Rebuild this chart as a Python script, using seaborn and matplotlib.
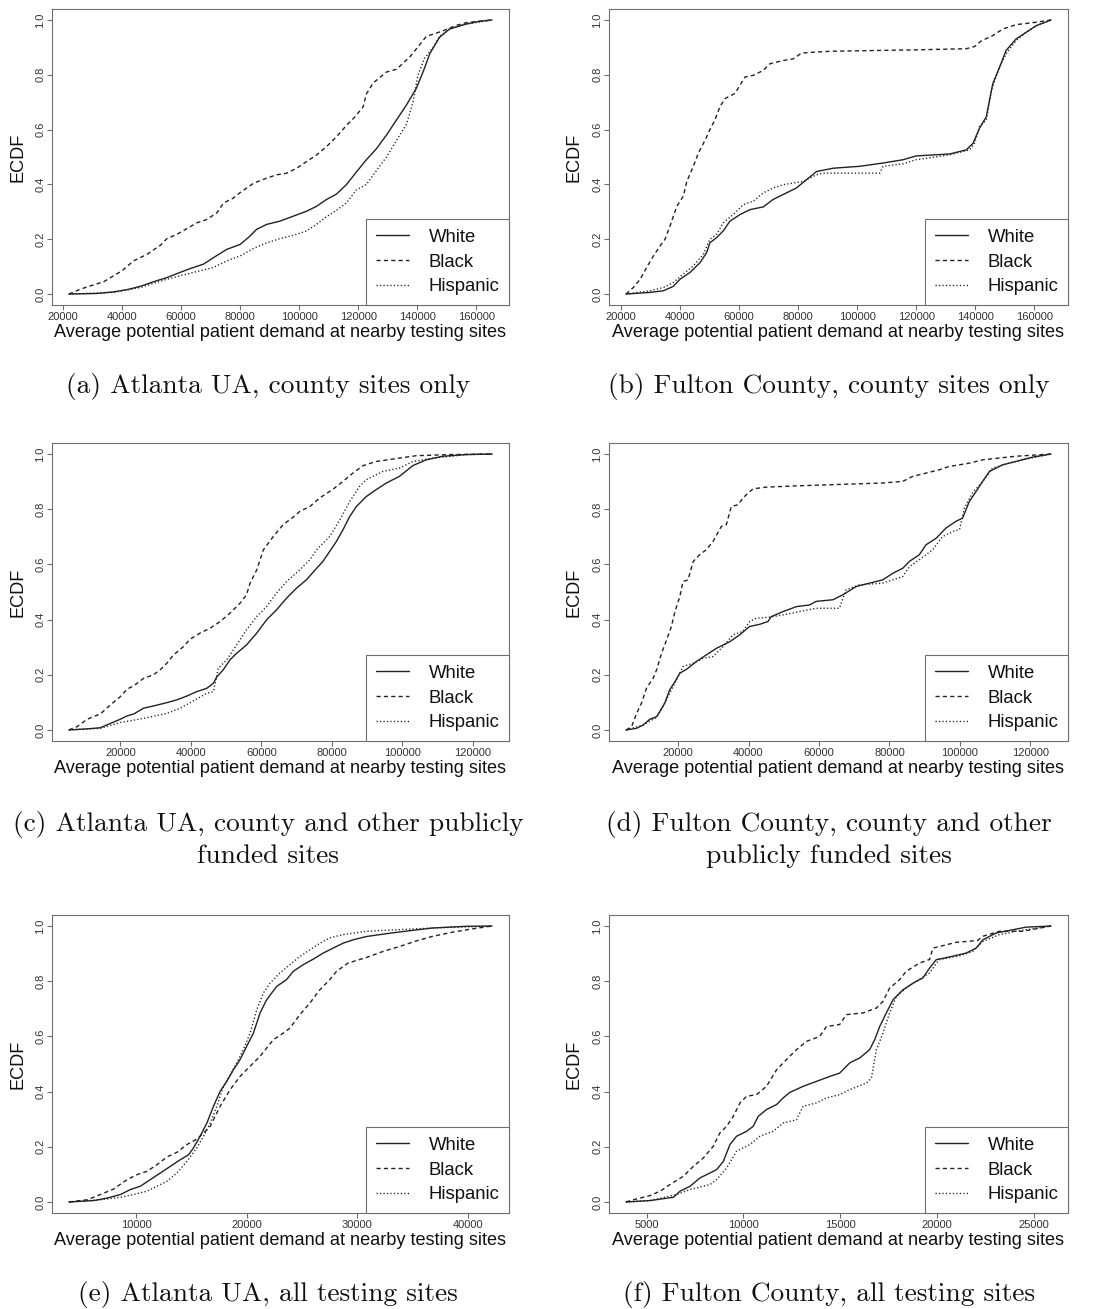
import matplotlib
matplotlib.use("Agg")
import matplotlib.pyplot as plt
import pandas as pd
import seaborn as sns

GROUPS = ["White", "Black", "Hispanic"]
Y_TICKS = [0.0, 0.2, 0.4, 0.6, 0.8, 1.0]
Y_TICK_LABELS = ["0.0", "0.2", "0.4", "0.6", "0.8", "1.0"]
X_LABEL = "Average potential patient demand at nearby testing sites"
Y_LABEL = "ECDF"

# ---- (a) Atlanta UA, county sites only ----
a_white_x = [22000, 31500, 37200, 41700, 46200, 50700, 55200, 59700, 63100, 67600, 71000, 75500,
             80000, 82800, 85600, 89000, 93500, 98000, 102500, 105900, 109300, 112700, 116100,
             119400, 122800, 126200, 129600, 133000, 136400, 139700, 142000, 144300, 147600,
             151000, 156600, 161100, 165400]
a_white_y = [0, 0.002, 0.008, 0.016, 0.028, 0.045, 0.06, 0.079, 0.093, 0.109, 0.133, 0.163,
             0.181, 0.206, 0.236, 0.254, 0.266, 0.284, 0.302, 0.32, 0.345, 0.365, 0.40,
             0.445, 0.49, 0.53, 0.58, 0.635, 0.69, 0.75, 0.81, 0.877, 0.937,
             0.967, 0.985, 0.995, 1.0]
a_black_x = [22000, 25900, 33800, 37200, 40000, 43900, 48500, 53000, 55200, 58600, 62500, 65400,
             68700, 72100, 74400, 77700, 80000, 84500, 89000, 92400, 95800, 99200, 102500, 105900,
             109300, 112700, 116100, 118900, 121700, 122800, 125100, 129600, 133000, 137500,
             140900, 143100, 148700, 153200, 156600, 165400]
a_black_y = [0, 0.018, 0.045, 0.067, 0.085, 0.121, 0.145, 0.178, 0.202, 0.218, 0.242, 0.26,
             0.272, 0.296, 0.332, 0.35, 0.37, 0.404, 0.423, 0.435, 0.441, 0.459, 0.483, 0.507,
             0.538, 0.574, 0.616, 0.646, 0.683, 0.73, 0.77, 0.81, 0.82, 0.865,
             0.91, 0.94, 0.96, 0.98, 0.99, 1.0]
a_hisp_x = [22000, 37200, 46200, 55200, 62000, 71000, 75500, 80000, 84500, 89000, 93500, 98000,
            102500, 105900, 109300, 112700, 116100, 119400, 122800, 126200, 129600, 133000,
            136400, 138600, 140300, 142500, 145400, 147600, 151000, 156600, 165400]
a_hisp_y = [0, 0.006, 0.024, 0.054, 0.073, 0.097, 0.121, 0.139, 0.166, 0.187, 0.202, 0.214,
            0.23, 0.254, 0.282, 0.306, 0.333, 0.38, 0.40, 0.45, 0.50, 0.56,
            0.62, 0.70, 0.80, 0.86, 0.90, 0.94, 0.967, 0.985, 1.0]
a_xticks = [20000, 40000, 60000, 80000, 100000, 120000, 140000, 160000]

# ---- (b) Fulton County, county sites only ----
b_white_x = [21700, 29900, 34400, 37700, 40000, 43400, 46800, 49000, 50100, 52400, 54600, 56900,
             60300, 63700, 68200, 71500, 74900, 79400, 82800, 86200, 91800, 100800, 108700,
             115500, 120000, 131300, 136900, 139200, 141400, 143700, 145900, 148200, 150400,
             153800, 157200, 160600, 165600]
b_white_y = [0, 0.006, 0.012, 0.028, 0.054, 0.079, 0.115, 0.151, 0.187, 0.206, 0.23, 0.266,
             0.29, 0.308, 0.318, 0.345, 0.363, 0.387, 0.417, 0.447, 0.459, 0.466, 0.478,
             0.49, 0.504, 0.511, 0.526, 0.55, 0.605, 0.647, 0.768, 0.828, 0.889,
             0.931, 0.955, 0.979, 1.0]
b_black_x = [21700, 24200, 26500, 28700, 31000, 33200, 34900, 36600, 38900, 41100, 42300, 44500,
             46200, 48500, 50100, 51800, 53500, 55200, 58600, 60300, 62000, 64800, 68200, 70400,
             74900, 78300, 81100, 86200, 91800, 108700, 120000, 136900, 139700, 141900, 145900,
             149300, 153800, 159400, 165600]
b_black_y = [0, 0.024, 0.054, 0.097, 0.139, 0.175, 0.2, 0.248, 0.32, 0.357, 0.411, 0.466,
             0.514, 0.562, 0.6, 0.635, 0.683, 0.713, 0.732, 0.762, 0.792, 0.798, 0.816, 0.84,
             0.852, 0.858, 0.879, 0.883, 0.886, 0.889, 0.891, 0.895, 0.903, 0.923, 0.943,
             0.967, 0.983, 0.99, 1.0]
b_hisp_x = [21700, 29900, 34400, 37700, 41100, 44500, 47900, 50100, 52400, 54600, 58000, 61400,
            64800, 68200, 71500, 74900, 81700, 86200, 88500, 107600, 108700, 115500, 120000,
            131300, 138000, 139700, 141400, 143700, 145400, 148200, 150400, 153800, 157200,
            160600, 165600]
b_hisp_y = [0, 0.012, 0.024, 0.042, 0.073, 0.103, 0.145, 0.2, 0.218, 0.26, 0.29, 0.326,
            0.339, 0.369, 0.387, 0.399, 0.411, 0.435, 0.441, 0.441, 0.466, 0.475, 0.49,
            0.508, 0.526, 0.55, 0.611, 0.635, 0.744, 0.828, 0.877, 0.925, 0.955,
            0.979, 1.0]
b_xticks = [20000, 40000, 60000, 80000, 100000, 120000, 140000, 160000]

# ---- (c) Atlanta UA, county and other publicly funded sites ----
c_white_x = [5400, 10600, 14300, 17200, 20000, 21900, 23800, 26600, 29400, 33200, 36000, 38900,
             41700, 44500, 46400, 47400, 49200, 51100, 53000, 55800, 58700, 61500, 64300, 67200,
             70000, 72800, 75700, 77500, 79400, 81300, 83200, 85100, 87000, 89800, 92600, 95500,
             99200, 103000, 106800, 111500, 118100, 125500]
c_white_y = [0, 0.004, 0.008, 0.024, 0.039, 0.051, 0.058, 0.079, 0.087, 0.099, 0.109, 0.123,
             0.139, 0.151, 0.169, 0.193, 0.218, 0.254, 0.278, 0.308, 0.351, 0.399, 0.435, 0.478,
             0.514, 0.544, 0.586, 0.611, 0.647, 0.683, 0.726, 0.774, 0.81, 0.846, 0.871, 0.895,
             0.919, 0.958, 0.979, 0.992, 0.998, 1.0]
c_black_x = [5400, 7700, 10600, 14300, 17200, 20000, 21900, 23800, 26600, 29400, 31300, 33200,
             35100, 37900, 39800, 42600, 45500, 48300, 51100, 54000, 55800, 56800, 58700, 60600,
             63400, 66200, 69100, 70900, 73800, 76600, 80400, 83200, 86000, 88900, 92600, 97400,
             104000, 113400, 125500]
c_black_y = [0, 0.012, 0.039, 0.058, 0.091, 0.121, 0.148, 0.16, 0.187, 0.2, 0.218, 0.242,
             0.272, 0.302, 0.329, 0.351, 0.369, 0.393, 0.423, 0.46, 0.49, 0.532, 0.58, 0.653,
             0.701, 0.744, 0.772, 0.792, 0.81, 0.841, 0.873, 0.901, 0.931, 0.958, 0.973, 0.982,
             0.994, 0.998, 1.0]
c_hisp_x = [5400, 14300, 20000, 26600, 33200, 37000, 40800, 44500, 46400, 47800, 50200, 53000,
            55800, 58700, 61500, 64300, 67200, 70900, 73800, 75700, 79400, 82300, 85100, 87900,
            89800, 94500, 99200, 103000, 108700, 118100, 125500]
c_hisp_y = [0, 0.006, 0.027, 0.042, 0.06, 0.079, 0.106, 0.133, 0.139, 0.224, 0.254, 0.308,
            0.363, 0.411, 0.447, 0.496, 0.538, 0.58, 0.617, 0.653, 0.701, 0.762, 0.828, 0.883,
            0.907, 0.937, 0.949, 0.973, 0.985, 0.998, 1.0]
c_xticks = [20000, 40000, 60000, 80000, 100000, 120000]

# ---- (d) Fulton County, county and other publicly funded sites ----
d_white_x = [5200, 8200, 10100, 12000, 13900, 14800, 16200, 17600, 19100, 20500, 22400, 25200,
             28000, 30900, 34700, 37500, 40300, 43200, 45500, 46500, 49800, 53600, 57300, 59200,
             64000, 66800, 70600, 74300, 78100, 81000, 83800, 85700, 88500, 90400, 93300, 96100,
             98900, 100800, 102700, 104600, 106500, 108400, 112200, 115900, 120700, 125900]
d_white_y = [0, 0.006, 0.018, 0.039, 0.048, 0.067, 0.097, 0.145, 0.175, 0.206, 0.22, 0.248,
             0.272, 0.296, 0.32, 0.345, 0.375, 0.383, 0.393, 0.411, 0.429, 0.447, 0.453, 0.466,
             0.472, 0.49, 0.52, 0.532, 0.544, 0.568, 0.586, 0.611, 0.635, 0.671, 0.695, 0.732,
             0.756, 0.768, 0.828, 0.864, 0.901, 0.937, 0.961, 0.973, 0.989, 1.0]
d_black_x = [5200, 6800, 8200, 9600, 11000, 12900, 13900, 15300, 16700, 18100, 19100, 20500,
             21400, 22800, 24300, 26100, 28000, 29900, 32300, 33700, 35100, 37000, 38400, 39800,
             41300, 45000, 54500, 63900, 78100, 83800, 86600, 90400, 94200, 97000, 102700,
             106500, 115900, 125900]
d_black_y = [0, 0.012, 0.06, 0.097, 0.151, 0.187, 0.218, 0.278, 0.326, 0.375, 0.429, 0.484,
             0.538, 0.544, 0.611, 0.635, 0.653, 0.683, 0.738, 0.744, 0.81, 0.816, 0.84, 0.858,
             0.874, 0.88, 0.885, 0.889, 0.895, 0.901, 0.919, 0.931, 0.943, 0.955, 0.967,
             0.979, 0.992, 1.0]
d_hisp_x = [5200, 10100, 13900, 15700, 17600, 19500, 21400, 24300, 27100, 29900, 32800, 35600,
            38400, 40300, 42200, 46000, 49800, 54500, 59200, 65800, 67700, 71500, 78100, 83800,
            85700, 88500, 92300, 95100, 98000, 99900, 101300, 103600, 106500, 109300, 114000,
            117800, 125900]
d_hisp_y = [0, 0.018, 0.046, 0.085, 0.133, 0.181, 0.23, 0.242, 0.26, 0.266, 0.302, 0.345,
            0.357, 0.393, 0.405, 0.409, 0.417, 0.429, 0.441, 0.441, 0.508, 0.526, 0.532, 0.556,
            0.592, 0.617, 0.653, 0.701, 0.719, 0.726, 0.804, 0.859, 0.901, 0.949, 0.967,
            0.979, 1.0]
d_xticks = [20000, 40000, 60000, 80000, 100000, 120000]

# ---- (e) Atlanta UA, all testing sites ----
e_white_x = [3900, 6150, 7350, 8560, 9460, 10360, 11260, 12170, 13070, 13970, 14720, 15170,
             15770, 16380, 16980, 17580, 18180, 18780, 19380, 19980, 20590, 21190, 21790, 22690,
             23590, 24200, 25100, 26000, 26900, 27800, 28710, 29610, 30810, 32920, 35320, 36830,
             39830, 42180]
e_white_y = [0, 0.005, 0.014, 0.027, 0.045, 0.057, 0.081, 0.105, 0.129, 0.153, 0.171, 0.196,
             0.238, 0.286, 0.347, 0.401, 0.437, 0.479, 0.516, 0.564, 0.612, 0.685, 0.733, 0.781,
             0.806, 0.836, 0.86, 0.88, 0.902, 0.92, 0.938, 0.95, 0.962, 0.974, 0.986, 0.993,
             0.999, 1.0]
e_black_x = [3900, 5550, 6750, 7950, 9160, 10060, 10960, 11860, 12770, 13670, 14570, 15470,
             16080, 16680, 17580, 18480, 19380, 20290, 21190, 22390, 23290, 23890, 24800, 25700,
             26600, 27500, 28110, 29160, 30810, 32320, 33820, 35320, 36830, 38630, 40440, 42180]
e_black_y = [0, 0.008, 0.027, 0.047, 0.081, 0.099, 0.111, 0.135, 0.163, 0.18, 0.208, 0.228,
             0.25, 0.274, 0.347, 0.407, 0.455, 0.492, 0.528, 0.588, 0.612, 0.63, 0.679, 0.721,
             0.769, 0.806, 0.836, 0.866, 0.886, 0.908, 0.926, 0.946, 0.963, 0.978, 0.99, 1.0]
e_hisp_x = [3900, 6750, 8560, 9760, 10960, 11860, 12770, 13670, 14570, 15470, 16080, 16680,
            17280, 17880, 18480, 19080, 19680, 20290, 20890, 21490, 22090, 22990, 23890, 24800,
            25700, 26600, 27500, 28710, 30810, 33820, 36830, 42180]
e_hisp_y = [0, 0.008, 0.017, 0.027, 0.039, 0.057, 0.075, 0.105, 0.147, 0.196, 0.238, 0.286,
            0.347, 0.419, 0.461, 0.504, 0.552, 0.612, 0.697, 0.757, 0.793, 0.83, 0.86, 0.89,
            0.914, 0.938, 0.957, 0.969, 0.981, 0.987, 0.993, 1.0]
e_xticks = [10000, 20000, 30000, 40000]

# ---- (f) Fulton County, all testing sites ----
f_white_x = [3930, 5170, 6380, 6720, 7240, 7750, 8270, 8610, 8960, 9300, 9640, 10160, 10500,
             10760, 11190, 11710, 12050, 12390, 13080, 13770, 14460, 14970, 15490, 16010, 16520,
             16780, 17040, 17380, 17730, 18240, 18760, 19270, 19620, 19960, 20650, 21510, 22020,
             22370, 23060, 23740, 24600, 25890]
f_white_y = [0, 0.005, 0.017, 0.039, 0.057, 0.087, 0.105, 0.117, 0.147, 0.208, 0.238, 0.256,
             0.274, 0.31, 0.335, 0.353, 0.377, 0.397, 0.419, 0.437, 0.455, 0.467, 0.504, 0.522,
             0.552, 0.588, 0.636, 0.685, 0.733, 0.769, 0.793, 0.812, 0.848, 0.878, 0.888, 0.902,
             0.92, 0.95, 0.975, 0.984, 0.996, 1.0]
f_black_x = [3930, 4310, 5170, 5690, 6200, 6890, 7410, 7920, 8440, 8780, 9130, 9470, 9820,
             10160, 10670, 11190, 11710, 12220, 12740, 13250, 13940, 14290, 14970, 15320, 16180,
             16870, 17210, 17550, 18070, 18410, 19100, 19620, 19790, 20480, 20990, 21510, 22110,
             22370, 23230, 24430, 25890]
f_black_y = [0, 0.008, 0.023, 0.039, 0.063, 0.093, 0.129, 0.159, 0.202, 0.25, 0.274, 0.31,
             0.359, 0.383, 0.389, 0.419, 0.479, 0.516, 0.552, 0.582, 0.6, 0.636, 0.643, 0.679,
             0.685, 0.703, 0.727, 0.775, 0.806, 0.836, 0.866, 0.879, 0.92, 0.932, 0.941, 0.944,
             0.948, 0.963, 0.981, 0.981, 1.0]
f_hisp_x = [3930, 5170, 6550, 7240, 8270, 8610, 9130, 9640, 10330, 10850, 11530, 12050, 12740,
            13080, 13770, 14290, 14970, 15490, 16350, 16610, 16870, 17210, 17550, 17900, 18410,
            18930, 19620, 20100, 21170, 21850, 22370, 23230, 24090, 25890]
f_hisp_y = [0, 0.005, 0.027, 0.045, 0.063, 0.081, 0.123, 0.184, 0.208, 0.238, 0.256, 0.286,
            0.298, 0.347, 0.359, 0.377, 0.389, 0.407, 0.431, 0.449, 0.552, 0.612, 0.685, 0.745,
            0.775, 0.8, 0.83, 0.878, 0.892, 0.908, 0.944, 0.969, 0.981, 1.0]
f_xticks = [5000, 10000, 15000, 20000, 25000]

CAPTIONS = {
    "a": ["(a) Atlanta UA, county sites only"],
    "b": ["(b) Fulton County, county sites only"],
    "c": ["(c) Atlanta UA, county and other publicly", "funded sites"],
    "d": ["(d) Fulton County, county and other", "publicly funded sites"],
    "e": ["(e) Atlanta UA, all testing sites"],
    "f": ["(f) Fulton County, all testing sites"],
}

# ---------------------------------------------------------------------------
LINE = "#222222"
FRAME = "#6e6e6e"
DASHES = {"White": "", "Black": (3.0, 2.3), "Hispanic": (0.9, 1.6)}

sns.set_theme(style="ticks", rc={
    "axes.xmargin": 0.04,
    "axes.ymargin": 0.04,
    "axes.edgecolor": FRAME,
    "axes.linewidth": 0.8,
    "xtick.color": FRAME,
    "ytick.color": FRAME,
    "xtick.labelcolor": "#333333",
    "ytick.labelcolor": "#333333",
    "xtick.major.size": 3.3,
    "ytick.major.size": 3.3,
    "xtick.major.width": 0.8,
    "ytick.major.width": 0.8,
    "xtick.major.pad": 1.8,
    "ytick.major.pad": 1.5,
    "xtick.labelsize": 8,
    "ytick.labelsize": 8,
})
plt.rcParams["font.family"] = ["Liberation Sans", "DejaVu Sans"]

W, H = 1099, 1309
fig = plt.figure(figsize=(W / 100, H / 100), dpi=100)

cols = {0: (52, 457), 1: (609, 459)}
rows = {0: (9, 296), 1: (443, 298), 2: (915, 298)}
cap_x = {0: 268, 1: 829}
cap_baseline = {0: [393], 1: [831, 863], 2: [1301]}

panels = [
    ("a", 0, 0, (a_white_x, a_white_y), (a_black_x, a_black_y), (a_hisp_x, a_hisp_y), a_xticks),
    ("b", 0, 1, (b_white_x, b_white_y), (b_black_x, b_black_y), (b_hisp_x, b_hisp_y), b_xticks),
    ("c", 1, 0, (c_white_x, c_white_y), (c_black_x, c_black_y), (c_hisp_x, c_hisp_y), c_xticks),
    ("d", 1, 1, (d_white_x, d_white_y), (d_black_x, d_black_y), (d_hisp_x, d_hisp_y), d_xticks),
    ("e", 2, 0, (e_white_x, e_white_y), (e_black_x, e_black_y), (e_hisp_x, e_hisp_y), e_xticks),
    ("f", 2, 1, (f_white_x, f_white_y), (f_black_x, f_black_y), (f_hisp_x, f_hisp_y), f_xticks),
]


def long_frame(white, black, hisp):
    parts = []
    for name, (xs, ys) in zip(GROUPS, (white, black, hisp)):
        parts.append(pd.DataFrame({"demand": xs, "ecdf": ys, "group": name}))
    return pd.concat(parts, ignore_index=True)


for key, r, c, white, black, hisp, xticks in panels:
    left, width = cols[c]
    top, height = rows[r]
    ax = fig.add_axes([left / W, 1 - (top + height) / H, width / W, height / H])

    df = long_frame(white, black, hisp)
    sns.lineplot(data=df, x="demand", y="ecdf", style="group", style_order=GROUPS,
                 dashes=DASHES, color=LINE, linewidth=1.0, estimator=None,
                 sort=False, legend=False, ax=ax)

    ax.set_xticks(xticks)
    ax.set_xticklabels([str(t) for t in xticks])
    ax.set_yticks(Y_TICKS)
    ax.set_yticklabels(Y_TICK_LABELS)
    for lab in ax.get_yticklabels():
        lab.set_rotation(90)
        lab.set_va("center")

    ax.set_xlabel(X_LABEL, fontsize=13.1, color="#111111")
    ax.xaxis.set_label_coords(0.5, -19 / height)
    ax.xaxis.label.set_va("top")
    ax.set_ylabel(Y_LABEL, fontsize=13.1, color="#111111")
    ax.yaxis.set_label_coords(-26 / width, 0.5)

    leg = ax.legend(handles=ax.lines[:3], labels=GROUPS, loc="lower right",
                    bbox_to_anchor=(1, 0), borderaxespad=0, fontsize=13.3,
                    frameon=True, fancybox=False, framealpha=1,
                    handlelength=1.8, handletextpad=1.05, labelspacing=0.42,
                    borderpad=0.52)
    leg.get_frame().set_edgecolor(FRAME)
    leg.get_frame().set_linewidth(0.8)
    for t in leg.get_texts():
        t.set_color("#111111")

    for i, line_text in enumerate(CAPTIONS[key]):
        fig.text(cap_x[c] / W, 1 - cap_baseline[r][i] / H, line_text,
                 family="cmr10", fontsize=19.7, ha="center", va="baseline", color="#111111")

fig.savefig("out.png", dpi=100)
